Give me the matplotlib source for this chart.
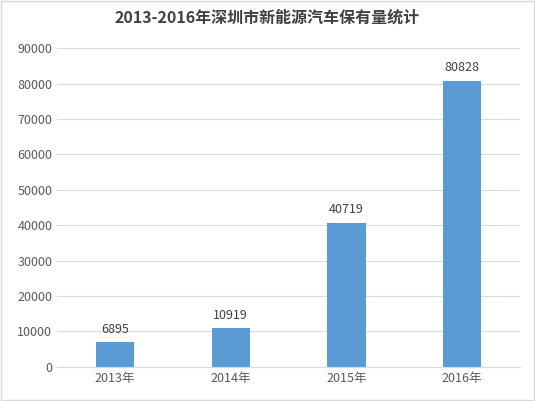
import matplotlib.pyplot as plt

plt.rcParams['font.family'] = ['Noto Sans CJK SC', 'DejaVu Sans']

years = ['2013年', '2014年', '2015年', '2016年']
counts = [6895, 10919, 40719, 80828]

fig = plt.figure(figsize=(5.35, 4.01), dpi=100)
fig.patches.append(plt.Rectangle((0.002, 0.002), 0.996, 0.996, transform=fig.transFigure,
                                 fill=False, edgecolor='#d9d9d9', linewidth=1))
ax = fig.add_axes([0.107, 0.085, 0.865, 0.795])

x = range(len(years))
bars = ax.bar(x, counts, width=0.33, color='#5b9bd5', zorder=2)
for xi, v in zip(x, counts):
    ax.text(xi, v + 1800, str(v), ha='center', va='bottom', fontsize=9, color='#404040')

ax.set_xticks(list(x))
ax.set_xticklabels(years, fontsize=9, color='#595959')
ax.set_xlim(-0.5, 3.5)
ax.set_ylim(0, 90000)
ax.set_yticks(range(0, 90001, 10000))
ax.tick_params(axis='y', labelsize=9, labelcolor='#595959', length=0)
ax.tick_params(axis='x', length=0)
ax.grid(axis='y', color='#d9d9d9', linewidth=0.8, zorder=0)
for s in ['top', 'right', 'left']:
    ax.spines[s].set_visible(False)
ax.spines['bottom'].set_color('#d9d9d9')

fig.text(0.5, 0.955, '2013-2016年深圳市新能源汽车保有量统计', ha='center', va='center',
         fontsize=11.5, fontweight='bold', color='#404040')

fig.savefig('out.png', dpi=100)
